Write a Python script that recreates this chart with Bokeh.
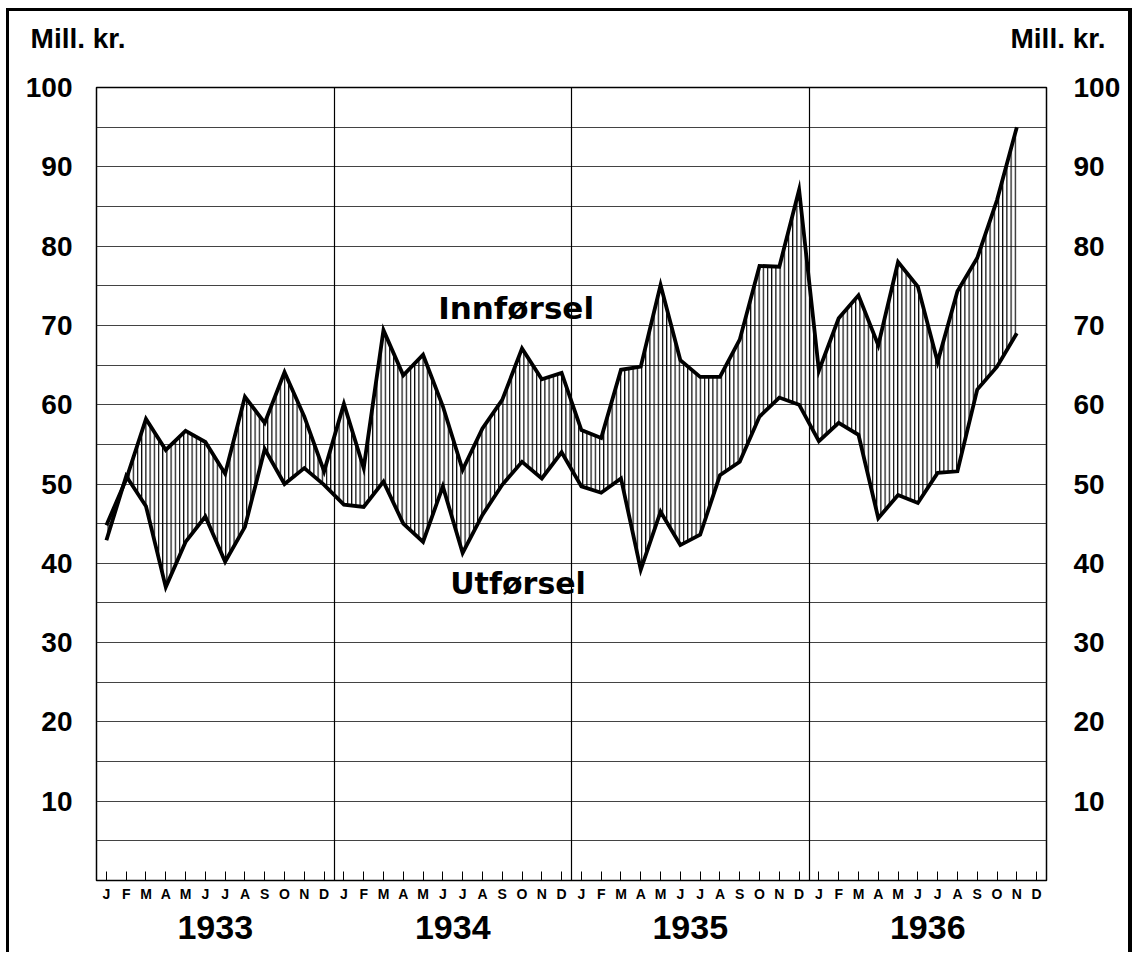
from bokeh.plotting import figure
from bokeh.layouts import column
from bokeh.models import LinearAxis, FixedTicker, Label, Range1d, Grid
from bokeh.embed import file_html
from bokeh.resources import INLINE

months = ["J", "F", "M", "A", "M", "J", "J", "A", "S", "O", "N", "D"]
years = ["1933", "1934", "1935", "1936"]

# Monthly values, Jan 1933 - Nov 1936 (mill. kr.)
innforsel = [44.8, 50.6, 58.2, 54.3, 56.7, 55.3, 51.3, 61.0, 57.7, 64.1, 58.5, 51.6,
             60.1, 52.0, 69.4, 63.7, 66.3, 59.8, 51.8, 57.0, 60.6, 67.1, 63.2, 64.0,
             56.8, 55.8, 64.4, 64.8, 75.1, 65.6, 63.5, 63.5, 68.2, 77.5, 77.4, 87.1,
             64.3, 70.9, 73.8, 67.5, 78.0, 74.9, 65.4, 74.3, 78.5, 85.8, 95.0]
utforsel = [42.9, 51.0, 47.2, 37.0, 42.7, 45.9, 40.2, 44.6, 54.4, 50.0, 52.0, 49.9,
            47.4, 47.1, 50.3, 45.0, 42.7, 49.7, 41.3, 46.1, 49.9, 52.8, 50.7, 54.0,
            49.7, 48.9, 50.7, 39.2, 46.5, 42.3, 43.6, 51.1, 52.8, 58.5, 60.9, 60.0,
            55.4, 57.7, 56.2, 45.7, 48.6, 47.6, 51.4, 51.6, 61.9, 64.8, 69.0]
y_ticks = [10, 20, 30, 40, 50, 60, 70, 80, 90, 100]
y_grid = [5, 10, 15, 20, 25, 30, 35, 40, 45, 50, 55, 60, 65, 70, 75, 80, 85, 90, 95, 100]
unit_label = "Mill. kr."

FONT = "Liberation Sans"
WIDE = "DejaVu Sans"
W, H_HEAD, H_MAIN = 1132, 70, 882
BL, BR = 96, 86
n_months = len(months) * len(years)
x = list(range(len(innforsel)))

# header strip carrying the unit labels (as axis labels)
head = figure(width=W, height=H_HEAD, output_backend="svg", toolbar_location=None,
              x_range=Range1d(0, 1), y_range=Range1d(0, 1),
              min_border_left=BL, min_border_right=BR, min_border_top=0, min_border_bottom=0,
              x_axis_location=None, y_axis_location=None)
head.grid.visible = False
head.outline_line_color = None
head.background_fill_color = None
head.border_fill_color = None

def unit_axis(standoff):
    return LinearAxis(ticker=FixedTicker(ticks=[0.46]), major_label_overrides={0.46: unit_label},
                      major_tick_in=0, major_tick_out=0, minor_tick_line_color=None,
                      axis_line_color=None, major_label_standoff=standoff,
                      major_label_text_font=FONT, major_label_text_font_size="28px",
                      major_label_text_font_style="bold", major_label_text_color="black")

head.add_layout(unit_axis(-29), "left")
head.add_layout(unit_axis(-36), "right")

p = figure(width=W, height=H_MAIN, output_backend="svg", toolbar_location=None,
           x_range=Range1d(-0.5, n_months - 0.5), y_range=Range1d(0, 100),
           min_border_left=BL, min_border_right=BR, min_border_top=17, min_border_bottom=72,
           x_axis_location=None, y_axis_location=None)
p.grid.visible = False
p.outline_line_color = "black"
p.outline_line_width = 1.5
p.background_fill_color = "white"
p.border_fill_color = None

# grids
p.add_layout(Grid(dimension=1, ticker=FixedTicker(ticks=y_grid),
                  grid_line_color="#222222", grid_line_width=1, grid_line_alpha=0.85))
p.add_layout(Grid(dimension=0, ticker=FixedTicker(ticks=[11.5, 23.5, 35.5]),
                  grid_line_color="black", grid_line_width=1.2))

# hatched band between lines
p.varea(x=x, y1=utforsel, y2=innforsel, fill_alpha=0,
        hatch_pattern="|", hatch_color="black", hatch_scale=4.2, hatch_weight=1.2)
p.line(x, innforsel, line_color="black", line_width=3.8, line_join="miter")
p.line(x, utforsel, line_color="black", line_width=3.8, line_join="miter")

# axes
def yaxis(standoff):
    return LinearAxis(ticker=FixedTicker(ticks=y_ticks), major_tick_in=0, major_tick_out=0,
                      minor_tick_line_color=None, axis_line_color=None,
                      major_label_standoff=standoff,
                      major_label_text_font=FONT, major_label_text_font_size="28px",
                      major_label_text_font_style="bold", major_label_text_color="black")

p.add_layout(yaxis(24), "left")
p.add_layout(yaxis(27), "right")

month_axis = LinearAxis(ticker=FixedTicker(ticks=list(range(n_months))),
                        major_label_overrides={i: months[i % 12] for i in range(n_months)},
                        major_tick_in=9, major_tick_out=0, major_tick_line_color="black",
                        minor_tick_line_color=None, axis_line_color=None,
                        major_label_standoff=5, major_label_text_font=FONT,
                        major_label_text_font_size="14px", major_label_text_font_style="bold",
                        major_label_text_color="black")
p.add_layout(month_axis, "below")

year_pos = [5.5, 17.5, 29.5, 41.5]
year_axis = LinearAxis(ticker=FixedTicker(ticks=year_pos),
                       major_label_overrides={year_pos[i]: years[i] for i in range(len(years))},
                       major_tick_line_color=None, minor_tick_line_color=None,
                       axis_line_color=None, major_label_standoff=5,
                       major_label_text_font=FONT, major_label_text_font_size="34px",
                       major_label_text_font_style="bold", major_label_text_color="black")
p.add_layout(year_axis, "below")

# series labels
p.add_layout(Label(x=20.7, y=72.2, text="Innførsel", text_font=WIDE, text_font_size="31px",
                   text_font_style="bold", text_align="center", text_baseline="middle",
                   text_color="black"))
p.add_layout(Label(x=20.8, y=37.4, text="Utførsel", text_font=WIDE, text_font_size="30px",
                   text_font_style="bold", text_align="center", text_baseline="middle",
                   text_color="black"))

layout = column(head, p, spacing=0)
layout.styles = {
    "background-color": "white",
    "box-shadow": ("inset 6px 0 0 0 white, inset 0 8px 0 0 white, "
                   "inset 9px 0 0 0 black, inset 0 11px 0 0 black, inset -4px 0 0 0 black"),
}

open("out.html", "w").write(file_html(layout, INLINE))
